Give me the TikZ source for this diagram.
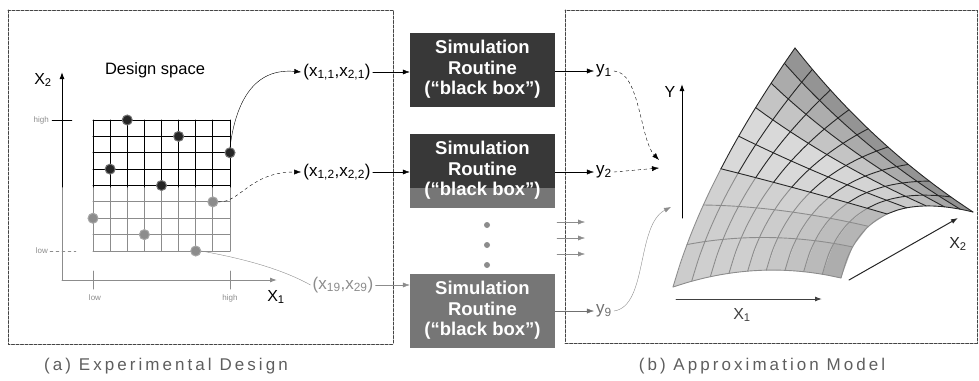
\documentclass[tikz,border=0pt]{standalone}
\usepackage{fontspec}
\setmainfont{Liberation Sans}
\newfontfamily\capfont[LetterSpace=18]{Liberation Sans}
\usepackage{tikz}
\usetikzlibrary{calc,arrows.meta,positioning}
\definecolor{caja}{HTML}{383838}
\definecolor{cajagris}{HTML}{767676}
\definecolor{gris}{HTML}{8C8C8C}
\definecolor{marco}{HTML}{444444}
\definecolor{leyenda}{HTML}{5E5E5E}

\begin{document}
\begin{tikzpicture}[x=1pt,y=-1pt,>={Latex[length=7pt,width=5pt]},line cap=round,
  declare function={
    w(\s)=\s*(1.6-0.6*\s);
    sx(\u,\v)=(1-\u)*(1-\v)*673+\u*(1-\v)*841+\u*\v*973+(1-\u)*\v*795
      +4*\u*(1-\u)*(\v*(-6))+4*\v*(1-\v)*((1-\u)*(-15)+\u*(-22));
    sy(\u,\v)=(1-\u)*(1-\v)*287+\u*(1-\v)*278+\u*\v*212+(1-\u)*\v*48
      +4*\u*(1-\u)*((1-\v)*(-12)+\v*8)+4*\v*(1-\v)*((1-\u)*5+\u*(-30));},
  simbox/.style={minimum width=145pt,minimum height=74pt,inner sep=0pt,text=white,
    align=center,font=\fontsize{18.5}{20.5}\selectfont\bfseries},
  etiq/.style={font=\fontsize{17}{19}\selectfont,inner sep=2pt},
  chico/.style={font=\fontsize{8}{9}\selectfont,text=gris,inner sep=1pt},
  puntonegro/.style={circle,minimum size=10pt,inner sep=0pt,fill=black!85,draw=black!55,line width=1pt},
  puntogris/.style={circle,minimum size=10pt,inner sep=0pt,fill=gris,draw=gray!70,line width=1pt},
  marcos/.style={marco,line width=1pt,dash pattern=on 3pt off 1.5pt}]
  \useasboundingbox (0,0) rectangle (979,380);

  % frames
  \draw[marcos] (8,10) rectangle (393,344);
  \draw[marcos] (565,10) rectangle (977,343);
  \node[font=\capfont\fontsize{17}{19}\selectfont,text=leyenda] (capa) at (166,366) {(a) Experimental Design};
  \node[font=\capfont\fontsize{17}{19}\selectfont,text=leyenda] (capb) at (762,366) {(b) Approximation Model};

  % design space
  \draw[gris,line width=1pt,->] (62,280) -- (277,280);
  \draw[gris,line width=1pt] (62,187) -- (62,280);
  \draw[black,line width=1pt,->] (62,187) -- (62,72);
  \draw[black] (52,120) -- (72,120);
  \draw[gris,dashed] (50,251) -- (76,251);
  \draw[gris,line width=1pt] (93,271) -- (93,289);
  \draw[gris,line width=1pt] (230,271) -- (230,289);
  \node[chico,left] (hi2) at (50,120) {high};
  \node[chico,left] (lo2) at (49,251) {low};
  \node[chico] (lo1) at (95,298) {low};
  \node[chico] (hi1) at (230,298) {high};
  \node[font=\fontsize{16}{18}\selectfont] (ejex1) at (276,297) {X\textsubscript{1}};
  \node[font=\fontsize{16}{18}\selectfont] (ejex2) at (43,80) {X\textsubscript{2}};
  \node[font=\fontsize{16.5}{18}\selectfont] (ds) at (155,70) {Design space};

  \foreach \k in {0,...,8}{
    \draw[gris,line width=1pt] (93+\k*17.125,187) -- (93+\k*17.125,251);
    \draw[black,line width=1pt] (93+\k*17.125,120) -- (93+\k*17.125,187);
  }
  \foreach \k in {0,...,4}
    \draw[black,line width=1pt] (93,120+\k*16.375) -- (230,120+\k*16.375);
  \foreach \k in {5,...,8}
    \draw[gris,line width=1pt] (93,120+\k*16.375) -- (230,120+\k*16.375);

  \foreach \c/\r [count=\n] in {2/0,5/1,8/2,1/3,4/4}
    \node[puntonegro] (d\n) at (93+\c*17.125,120+\r*16.375) {};
  \foreach \c/\r [count=\n] in {7/5,0/6,3/7,6/8}
    \node[puntogris] (g\n) at (93+\c*17.125,120+\r*16.375) {};

  % inputs
  \node[etiq] (in11) at (337,72) {(x\textsubscript{1,1},x\textsubscript{2,1})};
  \node[etiq] (in12) at (337,172) {(x\textsubscript{1,2},x\textsubscript{2,2})};
  \node[etiq,text=gris] (in19) at (343,285) {(x\textsubscript{19},x\textsubscript{29})};

  \draw[black,->] (d3.north) .. controls (236,100) and (255,68) .. (in11.west);
  \draw[black,dashed,->] (g1.east) .. controls (240,203) and (250,172) .. (in12.west);
  \draw[gris] (g4.east) .. controls (240,258) and (280,268) .. (in19.west);

  % simulation boxes
  \node[simbox,fill=caja] (sim1) at (482.5,69.5) {Simulation\\Routine\\(“black box”)};
  \node[simbox,fill=caja,path picture={\fill[cajagris] (path picture bounding box.south west)
      rectangle ([yshift=20pt]path picture bounding box.south east);}]
      (sim2) at (482.5,170.5) {Simulation\\Routine\\(“black box”)};
  \node[simbox,fill=cajagris] (sim9) at (482.5,310.5) {Simulation\\Routine\\(“black box”)};
  \foreach \y in {225,245,265}
    \fill[gris] (487,\y) circle (3pt);

  \draw[->] (in11.east) -- (sim1.west |- in11.east);
  \draw[->] (in12.east) -- (sim2.west |- in12.east);
  \draw[gris,->] (in19.east) -- (sim9.west |- in19.east);

  % outputs
  \node[etiq] (y1) at (604,71) {y\textsubscript{1}};
  \node[etiq] (y2) at (604,172) {y\textsubscript{2}};
  \node[etiq,text=gris!80!black] (y9) at (604,311) {y\textsubscript{9}};
  \draw[->] (sim1.east |- y1.west) -- (y1.west);
  \draw[->] (sim2.east |- y2.west) -- (y2.west);
  \draw[gris!80!black,->] (sim9.east |- y9.west) -- (y9.west);
  \foreach \y [count=\n] in {222,238,254}{
    \coordinate (ra\n) at (557,\y);
    \coordinate (rb\n) at (585,\y);
    \draw[gris,->] (ra\n) -- (rb\n);
  }

  \coordinate (fin1) at (659,160);
  \coordinate (fin2) at (659,168);
  \coordinate (fin9) at (671,207);
  \draw[dashed,->] (y1.east) .. controls (640,72) and (640,140) .. (fin1);
  \draw[dashed,->] (y2.east) -- (fin2);
  \draw[gris,->] (y9.east) .. controls (648,306) and (636,225) .. (fin9);

  % response surface
  \foreach \i in {0,...,8}{
    \foreach \j in {0,...,7}{
      \pgfmathsetmacro\ua{\i/9}\pgfmathsetmacro\ub{(\i+1)/9}
      \pgfmathsetmacro\va{w(\j/8)}\pgfmathsetmacro\vb{w((\j+1)/8)}
      \pgfmathsetmacro\sm{(\j+0.5)/8}\pgfmathsetmacro\um{(\i+0.5)/9}
      \pgfmathtruncatemacro\tono{16+32*\sm^3+20*\um^3*(1-\sm)+5*(1-\um)*(1-\sm)-8*exp(-30*(\sm-0.55)^2)}
      \fill[black!\tono] ({sx(\ua,\va)},{sy(\ua,\va)}) -- ({sx(\ub,\va)},{sy(\ub,\va)})
        -- ({sx(\ub,\vb)},{sy(\ub,\vb)}) -- ({sx(\ua,\vb)},{sy(\ua,\vb)}) -- cycle;
    }
  }
  \foreach \i in {0,...,9}{
    \draw[gris,line width=0.9pt] plot[domain=0:0.375,samples=6,smooth,variable=\t]
      ({sx(\i/9,w(\t))},{sy(\i/9,w(\t))});
    \draw[black!85,line width=0.9pt] plot[domain=0.375:1,samples=10,smooth,variable=\t]
      ({sx(\i/9,w(\t))},{sy(\i/9,w(\t))});
  }
  \foreach \j in {0,1,2}
    \draw[gris,line width=0.9pt] plot[domain=0:1,samples=12,smooth,variable=\t]
      ({sx(\t,w(\j/8))},{sy(\t,w(\j/8))});
  \foreach \j in {3,...,8}
    \draw[black!85,line width=0.9pt] plot[domain=0:1,samples=12,smooth,variable=\t]
      ({sx(\t,w(\j/8))},{sy(\t,w(\j/8))});

  % axes of the model
  \coordinate (o1) at (682,218);
  \coordinate (yt) at (682,84);
  \coordinate (o2) at (676,299);
  \coordinate (x1t) at (822,299);
  \coordinate (o3) at (849,280);
  \coordinate (x2t) at (958,218);
  \draw[black,line width=1pt,->] (o1) -- (yt);
  \draw[black!75,line width=1pt,->] (o2) -- (x1t);
  \draw[black!85,line width=1pt,->] (o3) -- (x2t);
  \node[font=\fontsize{16}{18}\selectfont] (ejey) at (670,92) {Y};
  \node[font=\fontsize{16}{18}\selectfont,text=black!75] (ejex1b) at (742,315) {X\textsubscript{1}};
  \node[font=\fontsize{16}{18}\selectfont,text=black!85] (ejex2b) at (958,244) {X\textsubscript{2}};
\end{tikzpicture}
\end{document}
